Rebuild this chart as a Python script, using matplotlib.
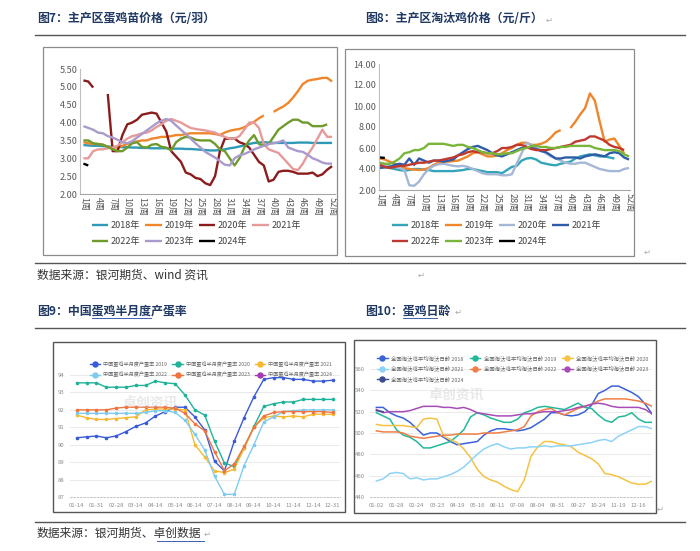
import matplotlib
matplotlib.use('Agg')
import matplotlib.pyplot as plt
import numpy as np
from matplotlib.lines import Line2D
from matplotlib.patches import Rectangle

plt.rcParams['font.family'] = ['Noto Sans CJK SC', 'DejaVu Sans']
plt.rcParams['axes.unicode_minus'] = False

nan = np.nan
W, H = 700, 551

# ---------- 数据 ----------
weeks = list(range(1, 53))
week_ticks = list(range(1, 53, 3))
week_labels = [f'{w}周' for w in week_ticks]
years_a = ['2018年', '2019年', '2020年', '2021年', '2022年', '2023年', '2024年']

# 图7 蛋鸡苗价格（元/羽）
chick_2018 = [3.37, 3.36, 3.35, 3.35, 3.34, 3.33, 3.32, 3.32, 3.31, 3.31,
              3.30, 3.30, 3.29, 3.29, 3.28, 3.28, 3.28, 3.28, 3.27, 3.27,
              3.27, 3.26, 3.26, 3.25, 3.24, 3.23, 3.22, 3.22, 3.23, 3.25,
              3.28, 3.30, 3.33, 3.36, 3.40, 3.43, 3.44, 3.45, 3.44, 3.43,
              3.43, 3.43, 3.43, 3.43, 3.44, 3.44, 3.44, 3.43, 3.43, 3.43,
              3.43, 3.43]
chick_2019 = [3.45, 3.42, 3.40, 3.40, 3.38, 3.32, 3.30, 3.30, 3.35, 3.40,
              3.45, 3.47, 3.50, 3.50, 3.55, 3.57, 3.60, 3.60, 3.62, 3.65,
              3.65, 3.68, 3.70, 3.70, 3.70, 3.70, 3.70, 3.68, 3.65, 3.72,
              3.77, 3.80, 3.82, 3.87, 3.95, 4.02, 4.12, 4.20, nan, 4.30,
              4.38, 4.45, 4.55, 4.70, 4.88, 5.08, 5.17, 5.20, 5.22, 5.25,
              5.25, 5.15]
chick_2020 = [5.18, 5.15, 4.98, nan, nan, 4.80, 3.20, 3.20, 3.65, 3.95,
              4.00, 4.08, 4.22, 4.25, 4.28, 4.25, 4.00, 3.75, 3.20, 3.05,
              2.90, 2.60, 2.55, 2.45, 2.42, 2.30, 2.25, 2.50, 3.20, 3.55,
              3.55, 3.55, 3.45, 3.40, 3.30, 3.10, 2.90, 2.80, 2.35, 2.40,
              2.62, 2.65, 2.65, 2.62, 2.57, 2.57, 2.57, 2.60, 2.50, 2.55,
              2.68, 2.78]
chick_2021 = [3.00, 3.00, 3.20, 3.25, 3.25, 3.28, 3.30, 3.35, 3.45, 3.55,
              3.62, 3.65, 3.70, 3.72, 3.78, 3.88, 3.95, 4.05, 4.10, 4.05,
              4.00, 3.92, 3.85, 3.82, 3.80, 3.78, 3.75, 3.72, 3.65, 3.60,
              3.55, 3.55, 3.62, 3.80, 4.00, 4.00, 3.85, 3.40, 3.25, 3.20,
              3.15, 3.00, 2.85, 2.70, 2.67, 2.85, 3.10, 3.30, 3.55, 3.80,
              3.60, 3.60]
chick_2022 = [3.50, 3.50, 3.42, 3.40, 3.38, 3.32, 3.25, 3.20, 3.20, 3.30,
              3.42, 3.45, 3.32, 3.30, 3.38, 3.40, 3.32, 3.30, 3.22, 3.45,
              3.55, 3.60, 3.58, 3.52, 3.50, 3.50, 3.50, 3.40, 3.25, 3.20,
              3.00, 2.80, 3.00, 3.30, 3.50, 3.65, 3.40, 3.35, 3.40, 3.60,
              3.80, 3.90, 4.00, 4.08, 4.08, 4.00, 4.00, 3.90, 3.90, 3.90,
              3.95, nan]
chick_2023 = [3.90, 3.85, 3.80, 3.72, 3.70, 3.62, 3.58, 3.52, 3.45, 3.42,
              3.48, 3.58, 3.68, 3.78, 3.88, 3.98, 4.05, 4.10, 4.05, 3.92,
              3.80, 3.68, 3.55, 3.42, 3.30, 3.18, 3.10, 3.02, 2.92, 2.82,
              2.80, 3.00, 3.08, 3.12, 3.18, 3.25, 3.30, 3.35, 3.40, 3.42,
              3.45, 3.50, 3.30, 3.25, 3.20, 3.18, 3.10, 3.00, 2.95, 2.88,
              2.85, 2.85]
chick_2024 = [2.85, 2.80] + [nan] * 50

# 图8 淘汰鸡价格（元/斤）
hen_2018 = [4.2, 4.2, 4.1, 4.0, 3.9, 3.85, 3.9, 4.0, 4.0, 3.95,
            3.9, 3.8, 3.8, 3.8, 3.8, 3.8, 3.85, 3.9, 4.0, 4.0,
            3.9, 3.8, 3.7, 3.7, 3.7, 3.6, 3.9, 4.2, 4.3, 4.8,
            5.0, 5.05, 4.9, 4.6, 4.5, 4.4, 4.35, 4.5, 4.6, 4.7,
            5.0, 5.2, 5.3, 5.4, 5.3, 5.2, 5.2, 5.1, 5.0, nan,
            nan, nan]
hen_2019 = [5.0, 4.9, 4.7, 4.5, 4.3, 4.1, 4.0, 3.95, 3.9, 3.95,
            4.1, 4.4, 4.6, 4.7, 4.7, 4.75, 4.8, 5.0, 5.2, 5.5,
            5.6, 5.4, 5.2, 5.2, 5.3, 5.5, 5.8, 6.0, 6.3, 6.5,
            6.5, 6.3, 6.3, 6.4, 6.6, 7.0, 7.5, 7.7, nan, 7.9,
            8.5, 9.2, 9.8, 11.2, 10.5, 8.5, 6.6, 6.8, 6.9, 6.2,
            5.5, nan]
hen_2020 = [4.6, 4.4, 4.3, 4.2, 4.1, 3.9, 2.45, 2.4, 2.8, 3.5,
            4.0, 4.3, 4.45, 4.5, 4.4, 4.3, 4.25, 4.3, 4.2, 4.0,
            3.8, 3.6, 3.5, 3.5, 3.5, 3.4, 3.4, 3.5, 4.5, 5.5,
            6.5, 6.3, 6.0, 5.8, 5.5, 5.2, 5.0, 4.8, 4.6, 4.5,
            4.5, 4.6, 4.6, 4.4, 4.2, 4.0, 3.9, 3.8, 3.8, 3.8,
            4.0, 4.1]
hen_2021 = [4.1, 4.15, 4.2, 4.4, 4.5, 4.4, 5.0, 4.4, 5.0, 4.8,
            4.6, 4.8, 4.8, 4.7, 4.8, 4.9, 5.3, 5.6, 5.9, 6.1,
            6.2, 6.0, 5.8, 5.5, 5.3, 5.2, 5.4, 5.6, 5.8, 6.0,
            6.1, 6.0, 5.9, 5.7, 5.6, 5.3, 5.0, 5.0, 5.1, 5.1,
            5.1, 5.0, 5.2, 5.3, 5.4, 5.3, 5.2, 5.5, 5.6, 5.5,
            5.1, 4.9]
hen_2022 = [4.4, 4.2, 4.1, 4.2, 4.3, 4.3, 4.4, 4.5, 4.6, 4.6,
            4.7, 4.8, 4.8, 4.9, 5.0, 5.1, 5.3, 5.4, 5.6, 5.7,
            5.6, 5.6, 5.5, 5.5, 5.7, 6.0, 6.0, 6.1, 6.3, 6.3,
            6.1, 5.9, 5.8, 5.8, 5.8, 5.9, 6.0, 6.1, 6.2, 6.3,
            6.6, 6.7, 6.8, 7.1, 7.1, 6.9, 6.7, 6.3, 6.1, 6.0,
            5.8, nan]
hen_2023 = [4.6, 4.5, 4.5, 4.7, 5.0, 5.5, 5.6, 5.8, 5.8, 6.0,
            6.4, 6.4, 6.4, 6.4, 6.3, 6.2, 6.3, 6.3, 6.1, 6.0,
            5.8, 5.6, 5.5, 5.5, 5.4, 5.4, 5.5, 5.5, 5.7, 5.9,
            6.0, 6.2, 6.2, 6.1, 6.1, 6.0, 6.0, 6.1, 6.1, 6.2,
            6.2, 6.2, 6.2, 6.2, 6.0, 5.9, 5.8, 5.8, 5.8, 5.7,
            5.4, 5.2]
hen_2024 = [5.1, 5.05] + [nan] * 50

# 图9 半月度产蛋率（%）
half_month_labels = ['01-14', '01-31', '02-28', '03-14', '04-14', '05-14', '06-14',
                     '07-14', '08-14', '09-14', '10-14', '11-14', '12-14', '12-31']
rate_names = ['中国蛋鸡半月度产蛋率 2019', '中国蛋鸡半月度产蛋率 2020', '中国蛋鸡半月度产蛋率 2021',
              '中国蛋鸡半月度产蛋率 2022', '中国蛋鸡半月度产蛋率 2023', '中国蛋鸡半月度产蛋率 2024']
rate_2019 = [90.4, 90.45, 90.5, 90.4, 90.5, 90.75, 91.05, 91.25, 91.65, 91.9, 92.15, 92.15, 91.6, 90.85,
             89.05, 88.5, 90.2, 91.55, 92.75, 93.75, 93.85, 93.85, 93.75, 93.75, 93.65, 93.65, 93.7]
rate_2020 = [93.55, 93.55, 93.55, 93.3, 93.3, 93.3, 93.4, 93.4, 93.65, 93.55, 93.5, 92.85, 92.0, 91.7,
             90.2, 88.95, 88.75, 89.8, 91.05, 92.2, 92.35, 92.45, 92.45, 92.6, 92.6, 92.6, 92.6]
rate_2021 = [91.7, 91.55, 91.45, 91.45, 91.5, 91.55, 91.6, 92.0, 92.05, 92.05, 92.05, 92.0, 90.0, 89.3,
             88.5, 88.4, 88.6, 89.8, 91.0, 91.55, 91.65, 91.6, 91.65, 91.6, 91.75, 91.75, 91.75]
rate_2022 = [91.8, 91.8, 91.8, 91.8, 91.8, 91.8, 91.8, 91.85, 91.95, 91.95, 91.85, 91.4, 90.6, 89.7,
             88.2, 87.15, 87.15, 88.8, 90.0, 91.3, 91.6, 91.9, 91.95, 92.0, 92.0, 92.0, 92.0]
rate_2023 = [92.0, 92.0, 92.0, 92.0, 92.1, 92.15, 92.15, 92.15, 92.15, 92.15, 92.1, 91.8, 91.2, 90.8,
             89.6, 88.5, 88.9, 89.9, 91.0, 91.65, 91.85, 91.9, 91.9, 91.9, 91.9, 91.9, 91.85]
rate_2024 = []

# 图10 蛋鸡日龄（天）
age_labels = ['01-02', '01-28', '02-24', '03-23', '04-19', '05-16', '06-11',
              '07-08', '08-04', '08-31', '09-27', '10-24', '11-19', '12-16']
age_names = ['全国淘汰鸡平均淘汰日龄 2018', '全国淘汰鸡平均淘汰日龄 2019', '全国淘汰鸡平均淘汰日龄 2020',
             '全国淘汰鸡平均淘汰日龄 2021', '全国淘汰鸡平均淘汰日龄 2022', '全国淘汰鸡平均淘汰日龄 2023',
             '全国淘汰鸡平均淘汰日龄 2024']
age_2018 = [524, 524, 519, 516, 514, 510, 504, 498, 500, 500, 496, 492, 489, 490, 491, 492, 498, 502, 504, 504,
            503, 502, 503, 505, 509, 513, 519, 519, 517, 516, 517, 520, 526, 537, 540, 544, 544, 541, 538, 534,
            527, 518]
age_2019 = [519, 516, 513, 503, 498, 496, 492, 486, 486, 488, 490, 492, 497, 503, 515, 519, 517, 514, 512, 510,
            510, 513, 519, 521, 524, 525, 524, 523, 522, 525, 528, 524, 523, 517, 512, 510, 515, 516, 519, 513,
            510, 510]
age_2020 = [508, 507, 507, 507, 507, 506, 505, 513, 514, 513, 497, 494, 491, 485, 477, 466, 459, 456, 454, 450,
            447, 445, 456, 478, 487, 492, 492, 490, 489, 487, 482, 479, 476, 471, 462, 461, 459, 456, 453, 452,
            452, 455]
age_2021 = [455, 457, 462, 463, 462, 457, 458, 456, 457, 457, 459, 461, 464, 468, 474, 480, 485, 488, 490, 487,
            485, 486, 486, 487, 487, 488, 487, 488, 488, 488, 489, 490, 491, 493, 494, 492, 497, 500, 503, 506,
            506, 504]
age_2022 = [502, 501, 501, 501, 500, 497, 496, 495, 496, 497, 498, 498, 499, 499, 499, 499, 500, 500, 500, 501,
            502, 503, 506, 516, 520, 522, 523, 519, 517, 520, 523, 525, 527, 530, 532, 532, 532, 532, 531, 530,
            528, 525]
age_2023 = [522, 519, 520, 520, 520, 521, 523, 525, 525, 525, 524, 524, 523, 524, 522, 519, 518, 517, 516, 516,
            516, 517, 518, 518, 519, 520, 520, 520, 521, 522, 524, 525, 527, 528, 527, 525, 524, 524, 524, 524,
            522, 518]
age_2024 = [521, 520]

# ---------- 画布 ----------
fig = plt.figure(figsize=(7, 5.51), dpi=100)


def fx(x):
    return x / W


def fy(y):
    return 1 - y / H


def add_ax(x0, y0, x1, y1):
    return fig.add_axes([fx(x0), fy(y1), (x1 - x0) / W, (y1 - y0) / H])


def box(x0, y0, x1, y1, color='#8C8C8C', lw=0.9):
    fig.add_artist(Rectangle((fx(x0), fy(y1)), (x1 - x0) / W, (y1 - y0) / H,
                             transform=fig.transFigure, fill=False, ec=color, lw=lw))


def hline(y, x0=35, x1=685, color='#555555', lw=1.0):
    fig.add_artist(Line2D([fx(x0), fx(x1)], [fy(y), fy(y)], transform=fig.transFigure, color=color, lw=lw))


def ret_mark(x, y):
    fig.text(fx(x), fy(y), '↵', fontsize=6, color='#AAAAAA', va='center', ha='left')


title_kw = dict(fontsize=8.6, weight='bold', color='#1F3864', va='center', ha='left')
src_kw = dict(fontsize=8.5, color='#333333', va='center', ha='left')

# 标题与分隔线
fig.text(fx(37), fy(19), '图7：主产区蛋鸡苗价格（元/羽）', **title_kw)
fig.text(fx(365), fy(19), '图8：主产区淘汰鸡价格（元/斤）', **title_kw)
ret_mark(546, 20)
hline(35)
hline(263)
fig.text(fx(37), fy(275), '数据来源：银河期货、wind 资讯', **src_kw)
ret_mark(418, 275)
fig.text(fx(37), fy(311), '图9：中国蛋鸡半月度产蛋率', **title_kw)
fig.text(fx(365), fy(311), '图10：蛋鸡日龄', **title_kw)
ret_mark(455, 312)
hline(328)
hline(522)
fig.text(fx(37), fy(533), '数据来源：银河期货、卓创数据', **src_kw)
ret_mark(204, 534)
# 下划线（超链接样式）
hline(318, 92, 151, color='#3A5FB0', lw=0.7)
hline(318, 403, 437, color='#3A5FB0', lw=0.7)
hline(541, 157, 204, color='#3A5FB0', lw=0.7)

# 图框
box(43, 47, 337, 255)
box(345, 49, 634, 256)
box(53, 342, 345, 512, color='#555555', lw=1.0)
box(354, 340, 656, 513, color='#555555', lw=1.0)
ret_mark(644, 252)
ret_mark(657, 509)


# ---------- Excel 风格折线图 ----------
def excel_chart(ax, series, colors, ylim, yticks, xlim):
    handles = []
    for vals, c, lab in zip(series, colors, years_a):
        h, = ax.plot(weeks, vals, color=c, lw=1.7, label=lab, solid_capstyle='butt')
        handles.append(h)
    ax.set_xlim(*xlim)
    ax.set_ylim(*ylim)
    ax.set_yticks(yticks)
    ax.set_yticklabels([f'{v:.2f}' for v in yticks], fontsize=6.5, color='#595959')
    ax.set_xticks(week_ticks)
    ax.set_xticklabels(week_labels, rotation=-90, fontsize=6.5, color='#595959')
    ax.tick_params(length=0, pad=2)
    for s in ['top', 'right']:
        ax.spines[s].set_visible(False)
    ax.spines['left'].set_color('#BFBFBF')
    ax.spines['bottom'].set_color('#A6A6A6')
    ax.spines['left'].set_linewidth(0.8)
    ax.spines['bottom'].set_linewidth(0.8)
    ax.set_facecolor('none')
    return handles


def excel_legend(handles, x, y):
    order = [0, 4, 1, 5, 2, 6, 3]
    fig.legend([handles[i] for i in order], [years_a[i] for i in order],
               loc='upper left', bbox_to_anchor=(fx(x), fy(y)), ncol=4, frameon=False,
               fontsize=6.5, handlelength=1.8, handletextpad=0.3, columnspacing=0.55,
               labelspacing=0.75, borderpad=0, borderaxespad=0, labelcolor='#404040')


ax1 = add_ax(80, 69, 335, 194)
h1 = excel_chart(ax1, [chick_2018, chick_2019, chick_2020, chick_2021, chick_2022, chick_2023, chick_2024],
                 ['#2E9AB8', '#F0862C', '#8B1C1C', '#E79A9A', '#6E9B2C', '#A99BCD', '#000000'],
                 (2.0, 5.5), np.arange(2.0, 5.51, 0.5), (0.3, 52.6))
excel_legend(h1, 92, 221)

ax2 = add_ax(379, 64, 630, 190)
h2 = excel_chart(ax2, [hen_2018, hen_2019, hen_2020, hen_2021, hen_2022, hen_2023, hen_2024],
                 ['#32A6B8', '#F0862C', '#A4B7D6', '#2F5CA8', '#C0392E', '#78B53A', '#000000'],
                 (2.0, 14.0), np.arange(2.0, 14.01, 2.0), (0.8, 52.2))
excel_legend(h2, 392, 221)


# ---------- ECharts 风格折线图 ----------
def echart_axes(ax, ylim, yticks, xlim, xt, xl):
    ax.set_xlim(*xlim)
    ax.set_ylim(*ylim)
    ax.set_yticks(yticks)
    ax.set_yticklabels([str(v) for v in yticks], fontsize=4.3, color='#8C8C8C')
    ax.set_xticks(xt)
    ax.set_xticklabels(xl, fontsize=4.3, color='#8C8C8C')
    ax.tick_params(length=0, pad=4)
    ax.grid(axis='y', color='#E6E6E6', lw=0.6)
    ax.set_axisbelow(True)
    for s in ['top', 'right', 'left']:
        ax.spines[s].set_visible(False)
    ax.spines['bottom'].set_color('#BBBBBB')
    ax.spines['bottom'].set_linestyle((0, (2, 2)))
    ax.spines['bottom'].set_linewidth(0.6)
    ax.set_facecolor('none')


ax3 = add_ax(70, 375, 340, 497)
rate_colors = ['#3A5BD9', '#1FB39A', '#F7B932', '#7FCBF0', '#F0743E', '#A43BB0']
rate_series = [rate_2019, rate_2020, rate_2021, rate_2022, rate_2023, rate_2024]
h3 = []
for vals, c in zip(rate_series, rate_colors):
    ax3.plot(range(len(vals)), vals, color=c, lw=1.0, marker='o', ms=1.6)
    h3.append(Line2D([], [], color=c, lw=1.0, marker='o', ms=3.6))
echart_axes(ax3, (87, 94), list(range(87, 95)), (-0.68, 26.74),
            list(range(0, 27, 2)), half_month_labels)
fig.text(fx(150), fy(402), '卓创资讯', fontsize=10, color='#C8C8C8', alpha=0.4,
         ha='center', va='center', weight='bold')
order3 = [0, 3, 1, 4, 2, 5]
fig.legend([h3[i] for i in order3], [rate_names[i] for i in order3],
           loc='upper left', bbox_to_anchor=(fx(90), fy(361)), ncol=3, frameon=False,
           fontsize=3.7, handlelength=2.0, handletextpad=0.6, columnspacing=1.0,
           labelspacing=0.95, borderpad=0, borderaxespad=0, labelcolor='#666666')

ax4 = add_ax(370, 369, 652, 497)
age_colors = ['#3A63D8', '#22B99A', '#F5C343', '#8DD3F7', '#F07E45', '#A84CB8', '#3B4C8F']
age_series = [age_2018, age_2019, age_2020, age_2021, age_2022, age_2023, age_2024]
h4 = []
for vals, c in zip(age_series, age_colors):
    ax4.plot(range(len(vals)), vals, color=c, lw=1.1)
    h4.append(Line2D([], [], color=c, lw=1.0, marker='o', ms=3.6))
echart_axes(ax4, (440, 560), list(range(440, 561, 20)), (-0.95, 41.0),
            list(range(0, 40, 3)), age_labels)
fig.text(fx(456), fy(394), '卓创资讯', fontsize=10, color='#C8C8C8', alpha=0.4,
         ha='center', va='center', weight='bold')
order4 = [0, 3, 6, 1, 4, 2, 5]
fig.legend([h4[i] for i in order4], [age_names[i] for i in order4],
           loc='upper left', bbox_to_anchor=(fx(377), fy(355)), ncol=3, frameon=False,
           fontsize=3.9, handlelength=2.0, handletextpad=0.6, columnspacing=1.1,
           labelspacing=0.85, borderpad=0, borderaxespad=0, labelcolor='#666666')

fig.savefig('out.png', dpi=100)
